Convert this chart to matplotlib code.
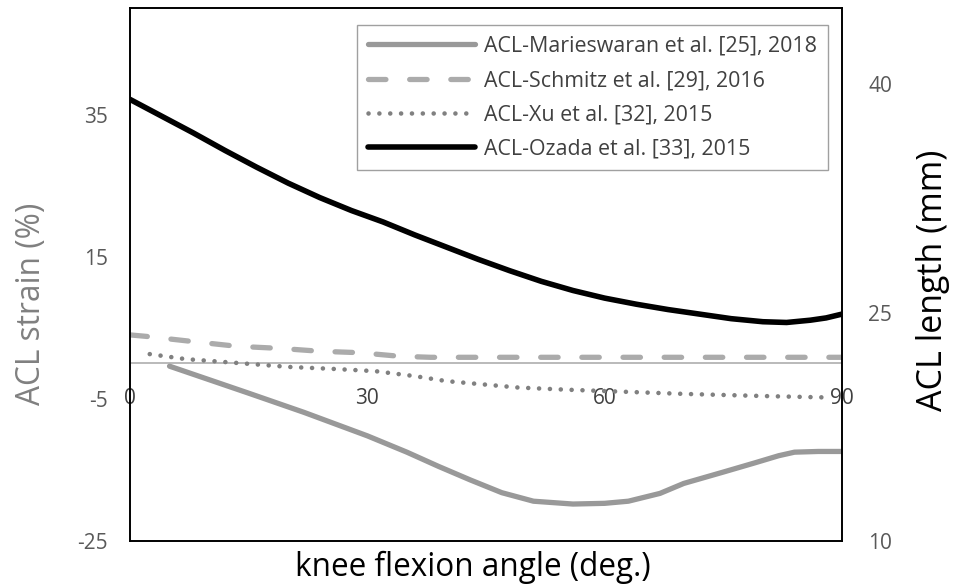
import numpy as np
import matplotlib
matplotlib.use("Agg")
import matplotlib.pyplot as plt

plt.rcParams['font.family'] = ['Open Sans', 'DejaVu Sans']
plt.rcParams['axes.unicode_minus'] = False

# === DATA ===
# ACL strain (%) curves, left axis
mari_angle = [5, 10, 15, 22, 30, 35, 39, 43, 47, 51, 56, 60, 63, 67, 70, 75, 79, 82, 84, 87, 90]
mari_strain = [-0.4, -2.3, -4.2, -6.9, -10.2, -12.5, -14.5, -16.4, -18.2, -19.4, -19.8, -19.7, -19.4, -18.3, -16.9, -15.3, -14.0, -13.0, -12.5, -12.4, -12.4]

schm_angle = [0, 2, 8.5, 13.5, 19, 24, 29, 34, 38, 45, 60, 75, 90]
schm_strain = [4.0, 3.8, 3.0, 2.4, 2.1, 1.7, 1.5, 1.0, 0.85, 0.85, 0.85, 0.85, 0.85]

xu_angle = [2.5, 7, 13, 20, 26, 31, 36, 40, 45, 49, 55, 60, 70, 80, 88]
xu_strain = [1.3, 0.6, 0.1, -0.5, -0.8, -1.1, -1.8, -2.5, -3.0, -3.4, -3.7, -3.9, -4.3, -4.6, -4.8]

# ACL length (mm), right axis
ozada_angle = [0, 4, 8, 12, 16, 20, 24, 28, 32, 36, 40, 44, 48, 52, 56, 60, 64, 68, 72, 76, 80, 83, 86, 88, 90]
ozada_length = [39.0, 37.9, 36.8, 35.65, 34.55, 33.5, 32.55, 31.7, 30.95, 30.1, 29.3, 28.5, 27.75,
                27.05, 26.45, 25.95, 25.55, 25.2, 24.9, 24.6, 24.4, 24.35, 24.5, 24.65, 24.9]

labels = ['ACL-Marieswaran et al. [25], 2018', 'ACL-Schmitz et al. [29], 2016',
          'ACL-Xu et al. [32], 2015', 'ACL-Ozada et al. [33], 2015']

x_ticks = [0, 30, 60, 90]
strain_ticks = [-25, -5, 15, 35]
length_ticks = [10, 25, 40]

# === PLOT ===
fig = plt.figure(figsize=(9.65, 5.86), dpi=100)
ax = fig.add_axes([0.1347, 0.0768, 0.7378, 0.9095])
ax2 = ax.twinx()

ax.set_xlim(0, 90)
ax.set_ylim(-25, 50)
ax2.set_ylim(10, 45)

ax.axhline(0, color='#B4B4B4', lw=1.3, zorder=1)

l1, = ax.plot(mari_angle, mari_strain, color='#999999', lw=3.8, solid_capstyle='round')
l2, = ax.plot(schm_angle, schm_strain, color='#ABABAB', lw=3.8,
              dash_capstyle='round', dashes=(3.3, 4.5))
l3, = ax.plot(xu_angle, xu_strain, color='#808080', lw=3.3,
              dash_capstyle='round', dashes=(0.01, 2.36))
l4, = ax2.plot(ozada_angle, ozada_length, color='black', lw=4.0, solid_capstyle='round')

for a in (ax, ax2):
    for s in a.spines.values():
        s.set_color('black')
        s.set_linewidth(1.2)

ax.set_xticks(x_ticks)
ax.set_xticklabels([str(v) for v in x_ticks])
ax.tick_params(axis='x', length=0, pad=-110, labelsize=15, labelcolor='#404040')
ax.set_yticks(strain_ticks)
ax.tick_params(axis='y', length=0, pad=16, labelsize=15, labelcolor='#595959')
ax2.set_yticks(length_ticks)
ax2.tick_params(axis='y', length=0, pad=19, labelsize=15, labelcolor='#595959')

xl = ax.set_xlabel('knee flexion angle (deg.)', fontsize=22.7, color='black')
ax.xaxis.set_label_coords(0.482, -0.05)
xl.set_va('center')
yl = ax.set_ylabel('ACL strain (%)', fontsize=22.8, color='#808080')
ax.yaxis.set_label_coords(-0.138, 0.444)
yl.set_va('center')
yr = ax2.set_ylabel('ACL length (mm)', fontsize=24.5, color='black')
ax2.yaxis.set_label_coords(1.128, 0.49)
yr.set_va('center')

leg = ax2.legend([l1, l2, l3, l4], labels, loc='upper left', bbox_to_anchor=(0.319, 0.968),
                 borderaxespad=0, fontsize=15.4, handlelength=5.0, handletextpad=0.43,
                 labelspacing=0.62, borderpad=0.5, fancybox=False, framealpha=1,
                 edgecolor='#A0A0A0')
leg.get_frame().set_linewidth(1.0)
for t in leg.get_texts():
    t.set_color('#404040')

fig.savefig('out.png', dpi=100)
